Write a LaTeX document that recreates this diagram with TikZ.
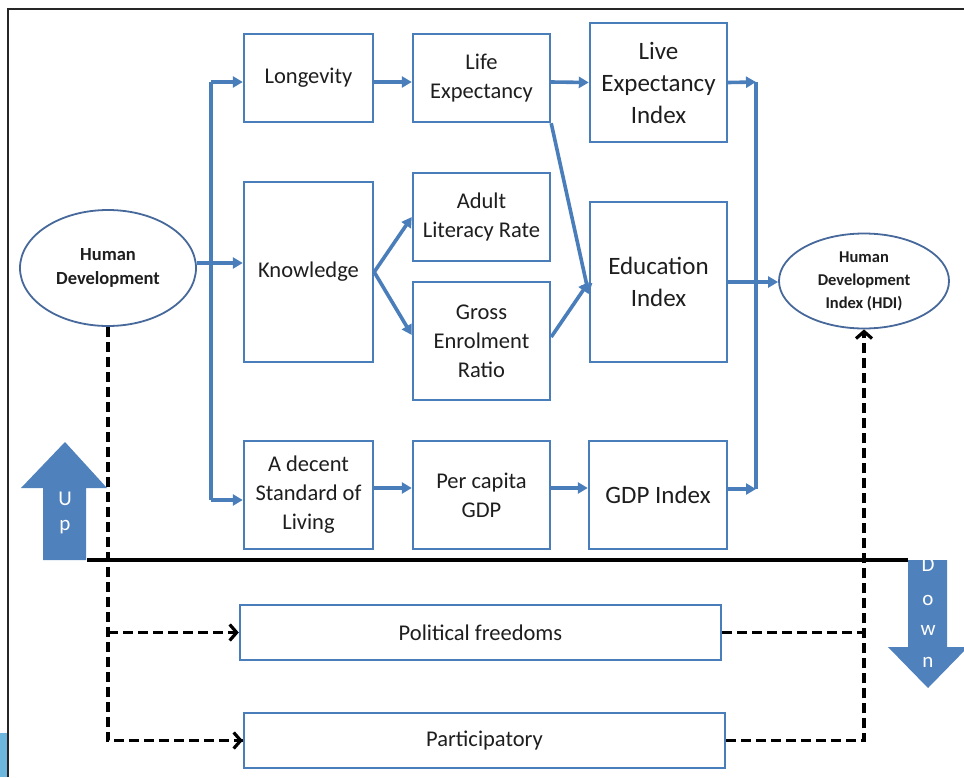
\documentclass[tikz,border=0pt]{standalone}
\usepackage{fontspec}
\setmainfont{Carlito}
\usetikzlibrary{arrows.meta,shapes.geometric}
\definecolor{boxblue}{HTML}{4A7EBB}
\definecolor{fillblue}{HTML}{4F81BD}
\definecolor{edgeblue}{HTML}{46689A}
\definecolor{txt}{HTML}{1E1E1E}
\definecolor{sideblue}{HTML}{6DB6DD}
\begin{document}
\begin{tikzpicture}[x=1pt,y=-1pt,
  box/.style={draw=boxblue, line width=2.4pt, rectangle, align=center, text=txt, inner sep=2pt, font=\fontsize{22.5}{29}\selectfont},
  bigbox/.style={box, font=\fontsize{25}{32}\selectfont},
  oval/.style={draw=edgeblue, line width=1.8pt, ellipse, align=center, text=txt, inner sep=0pt},
  conn/.style={draw=boxblue, line width=3.6pt, -{Triangle[length=10pt,width=11pt]}},
  plainconn/.style={draw=boxblue, line width=3.6pt},
  dline/.style={draw=black, line width=3.2pt, dash pattern=on 10pt off 5pt},
  darrow/.style={dline, -{Straight Barb[length=7pt,width=16pt]}},
  blockarrow/.style={fill=fillblue},
  arrowtext/.style={text=white, font=\fontsize{21}{24}\selectfont, inner sep=0pt},
]
\useasboundingbox (0,0) rectangle (964,777);
\fill[white] (0,0) rectangle (964,777);
\fill[sideblue] (0,733) rectangle (8,777);
\draw[line width=1.8pt, draw=black!85] (8,777) -- (8,9) -- (964,9);

% ovals
\node[oval, minimum width=176pt, minimum height=116pt, font=\bfseries\fontsize{18.5}{24}\selectfont] (hd) at (108,268) {Human\\Development};
\node[oval, minimum width=170pt, minimum height=95pt, font=\bfseries\fontsize{16.5}{23}\selectfont] (hdi) at (864,281) {Human\\Development\\Index (HDI)};

% boxes
\node[box, minimum width=129pt, minimum height=88pt] (lon) at (308.5,78) {Longevity};
\node[box, minimum width=137pt, minimum height=88pt] (life) at (481.5,78) {Life\\Expectancy};
\node[bigbox, minimum width=137pt, minimum height=119pt] (lei) at (658.5,82.5) {Live\\Expectancy\\Index};
\node[box, minimum width=129pt, minimum height=180pt] (know) at (308.5,272) {Knowledge};
\node[box, minimum width=137pt, minimum height=88pt] (adult) at (481.5,217) {Adult\\Literacy Rate};
\node[box, minimum width=137pt, minimum height=118pt] (gross) at (481.5,341) {Gross\\Enrolment\\Ratio};
\node[bigbox, minimum width=137pt, minimum height=160pt] (edu) at (658.5,282) {Education\\Index};
\node[box, minimum width=129pt, minimum height=108pt] (decent) at (308.5,495) {A decent\\Standard of\\Living};
\node[box, minimum width=137pt, minimum height=108pt] (percap) at (481.5,495) {Per capita\\GDP};
\node[bigbox, minimum width=138pt, minimum height=108pt] (gdp) at (658,495) {GDP Index};
\node[box, minimum width=481pt, minimum height=55pt] (pol) at (480.5,632.5) {Political freedoms};
\node[box, minimum width=481pt, minimum height=55pt] (part) at (484.5,740.5) {Participatory};

% blue connectors, left fan
\coordinate (split) at (211,263);
\coordinate (fantop) at (211,82);
\coordinate (fanbot) at (211,500);
\draw[plainconn] ([yshift=5pt]hd.east) -- (split);
\draw[plainconn] (fantop) -- (fanbot);
\draw[conn] (fantop) -- (fantop -| lon.west);
\draw[conn] (split) -- (split -| know.west);
\draw[conn] (fanbot) -- (fanbot -| decent.west);

% rows
\draw[conn] ([yshift=-4pt]lon.east) -- ([yshift=-4pt]life.west);
\draw[conn] ([yshift=-4pt]life.east) -- (lei.west);
\draw[conn] (know.east) -- (adult.west);
\draw[conn] (know.east) -- ([yshift=6pt]gross.west);
\draw[conn] (life.south east) -- ([yshift=-12pt]edu.west);
\draw[conn] ([yshift=4pt]gross.east) -- (edu.west);
\draw[conn] ([yshift=7pt]decent.east) -- ([yshift=7pt]percap.west);
\draw[conn] ([yshift=7pt]percap.east) -- ([yshift=7pt]gdp.west);

% right collector
\coordinate (coltop) at (756,82);
\coordinate (colbot) at (756,489);
\draw[plainconn] (coltop) -- (colbot);
\draw[conn] (lei.east) -- (coltop);
\draw[conn] ([yshift=6pt]gdp.east) -- (colbot);
\draw[conn] (edu.east) -- (edu.east -| hdi.west);

% up/down block arrows
\fill[blockarrow] (43,560) -- (43,488) -- (21,488) -- (65,442) -- (107,488) -- (86,488) -- (86,560) -- cycle;
\fill[blockarrow] (908,560) -- (908,647) -- (888,647) -- (928,688) -- (968,647) -- (947,647) -- (947,560) -- cycle;
\node[arrowtext] (u1) at (65,499) {U};
\node[arrowtext] (u2) at (65,527) {p};
\node[arrowtext] (d1) at (928,565) {D};
\node[arrowtext] (d2) at (928,600) {o};
\node[arrowtext] (d3) at (928,630) {w};
\node[arrowtext] (d4) at (928,662) {n};

% separator line
\coordinate (sepl) at (87,560);
\coordinate (sepr) at (908,560);
\draw[line width=3.6pt] (sepl) -- (sepr);

% dashed connectors
\draw[dline] (hd.south) |- (part.west);
\draw[darrow] (hd.south |- pol.west) -- (pol.west);
\draw[darrow] ([xshift=-4pt]part.west) -- (part.west);
\draw[dline] (pol.east) -- (pol.east -| hdi.south);
\draw[darrow] (part.east) -| (hdi.south);
\end{tikzpicture}
\end{document}
